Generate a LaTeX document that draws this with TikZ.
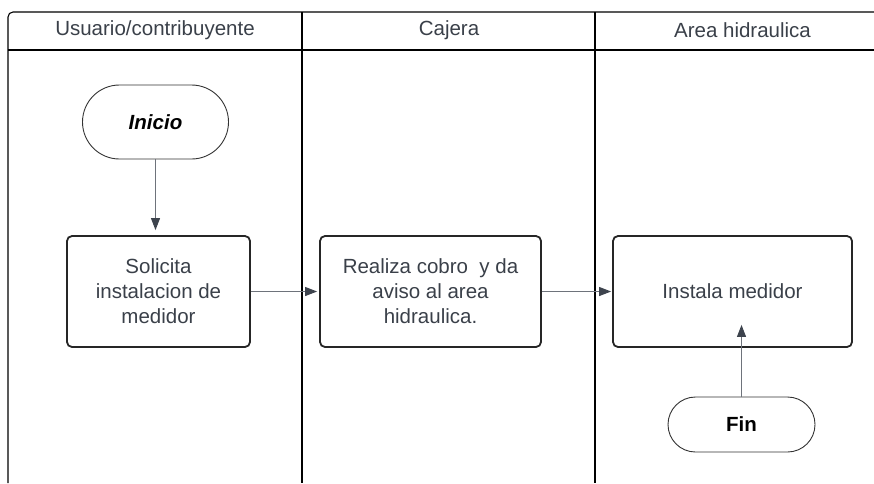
\documentclass[tikz,border=0pt]{standalone}
\usepackage{fontspec}
\setmainfont{Liberation Sans}
\usetikzlibrary{arrows.meta,positioning,calc}
\definecolor{txtgray}{HTML}{3A4049}
\definecolor{flowgray}{HTML}{6E737B}
\definecolor{tipgray}{HTML}{3D434D}
\begin{document}
\begin{tikzpicture}[x=1pt, y=-1pt,
    font=\fontsize{20.5}{25}\selectfont,
    lane/.style = {draw=black, line width=1.1pt},
    title/.style = {text=txtgray, inner sep=0pt, font=\fontsize{20.5}{25}\selectfont},
    task/.style = {draw=black!85, line width=1.8pt, rounded corners=5pt, align=center,
                   text=txtgray, inner sep=0pt},
    terminal/.style = {draw=black!80, line width=0.9pt, align=center, inner sep=0pt},
    flow/.style = {draw=flowgray, line width=1pt,
                   -{Triangle[length=12pt, width=9pt, fill=tipgray, color=tipgray]}}]
    \useasboundingbox (0,0) rectangle (874,483);
    \draw[lane, rounded corners=5pt] (8,483) -- (8,12) -- (874,12);
    \draw[lane] (8,50) -- (874,50);
    \draw[lane] (302,12) -- (302,483);
    \draw[lane] (595,12) -- (595,483);
    \node[title] (usuario) at (155,30) {Usuario/contribuyente};
    \node[title] (cajera) at (449,30) {Cajera};
    \node[title] (area) at (742.5,30) {Area hidraulica};
    \node[terminal, minimum width=146pt, minimum height=74pt, rounded corners=37pt]
        (inicio) at (155.5,122) {\textbf{\textit{Inicio}}};
    \node[task, minimum width=183pt, minimum height=111pt] (solicita) at (158.5,291.5)
        {Solicita\\instalacion de\\medidor};
    \node[task, minimum width=221pt, minimum height=111pt] (realiza) at (430.5,291.5)
        {Realiza cobro \ y da\\aviso al area\\hidraulica.};
    \node[task, minimum width=239pt, minimum height=111pt] (instala) at (732.5,291.5)
        {Instala medidor};
    \node[terminal, minimum width=147pt, minimum height=55pt, rounded corners=27.5pt]
        (fin) at (741.5,424.5) {\textbf{Fin}};
    \coordinate (entrada) at ($(fin.north |- instala.south)+(0,-23)$);
    \draw[flow, shorten >=5pt] (inicio.south) -- (inicio.south |- solicita.north);
    \draw[flow, shorten >=2pt] (solicita.east) -- (realiza.west);
    \draw[flow, shorten >=1pt] (realiza.east) -- (instala.west);
    \draw[flow] (fin.north) -- (entrada);
\end{tikzpicture}
\end{document}
